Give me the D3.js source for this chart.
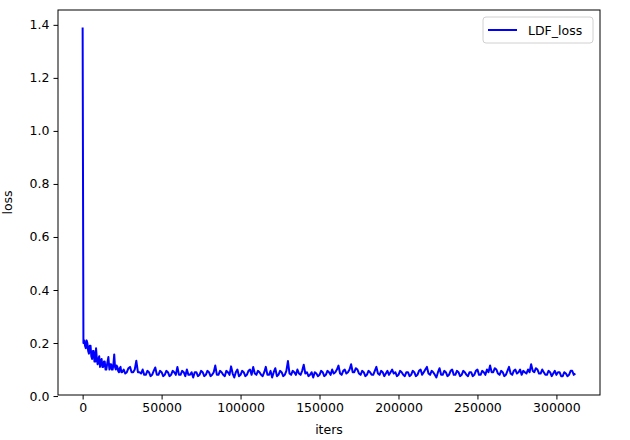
<!DOCTYPE html>
<html>
 <head>
   <title>LDF loss</title>
   <script type="text/javascript" src="https://cdn.jsdelivr.net/npm/d3@7"></script>
   <style type="text/css">
		body { margin: 0; background: #fff; }
		text {
			font-family: "DejaVu Sans", sans-serif;
			font-size: 12.5px;
			fill: #000;
		}
		path.loss {
			stroke: #0000ff;
			stroke-width: 2;
			fill: none;
			stroke-linejoin: round;
		}
   </style>
 </head>
 <body>
   <script type="text/javascript">

	// [iter, loss]
	var lossData = [
		[0,1.39],[500,0.20],[1000,0.21],[1500,0.19],[2000,0.18],[2500,0.21],[3000,0.20],[3500,0.17],[4000,0.16],
		[4500,0.19],[5000,0.19],[5500,0.15],[6000,0.14],[6500,0.17],[7000,0.17],[7500,0.13],[8000,0.13],[8500,0.18],
		[9000,0.14],[9500,0.12],[10000,0.14],[10500,0.15],[11000,0.11],[11500,0.13],[12000,0.14],[12500,0.11],
		[13000,0.11],[13500,0.13],[14000,0.13],[14500,0.10],[15000,0.10],[15500,0.12],[16300,0.147],[16800,0.11],
		[17000,0.10],[17500,0.12],[18000,0.12],[18500,0.10],[19000,0.10],[19500,0.12],[20000,0.157],[20500,0.11],
		[21000,0.10],[21500,0.115],[22000,0.11],[22500,0.095],[23000,0.09],[23500,0.105],[24000,0.11],[24500,0.09],[25000,0.09],
		[26000,0.10],[27000,0.085],[28000,0.09],[29000,0.105],[30000,0.11],[31000,0.09],[32000,0.09],[33000,0.10],
		[34000,0.133],[35000,0.09],[36000,0.09],[37000,0.085],[38000,0.10],[39000,0.08],[40000,0.08],[41000,0.095],
		[42000,0.09],[43000,0.075],[44000,0.08],[45000,0.095],[46000,0.108],[47000,0.08],[48000,0.08],[49000,0.095],
		[50000,0.09],[51000,0.075],[52000,0.08],[53000,0.095],[54000,0.09],[55000,0.075],[56000,0.08],[57000,0.095],
		[58000,0.09],[59000,0.08],[60000,0.11],[61000,0.08],[62000,0.08],[63000,0.095],[64000,0.09],[65000,0.075],
		[66000,0.10],[67000,0.08],[68000,0.08],[69000,0.09],[70000,0.07],[71000,0.09],[72000,0.09],[73000,0.075],
		[74000,0.08],[75000,0.095],[76000,0.09],[77000,0.075],[78000,0.08],[79000,0.095],[80000,0.09],[81000,0.075],
		[82000,0.08],[83000,0.09],[84000,0.115],[85000,0.08],[86000,0.08],[87000,0.095],[88000,0.09],[89000,0.08],
		[90000,0.075],[91000,0.095],[92000,0.09],[93000,0.08],[94000,0.112],[95000,0.085],[96000,0.07],[97000,0.09],
		[98000,0.10],[99000,0.075],[100000,0.08],[101000,0.095],[102000,0.09],[103000,0.075],[104000,0.08],[105000,0.095],
		[106000,0.10],[107000,0.08],[108000,0.11],[109000,0.085],[110000,0.08],[111000,0.095],[112000,0.09],[113000,0.08],
		[114000,0.075],[115000,0.09],[116000,0.11],[117000,0.08],[118000,0.08],[119000,0.095],[120000,0.07],[121000,0.09],
		[122000,0.105],[123000,0.075],[124000,0.08],[125000,0.095],[126000,0.09],[127000,0.075],[128000,0.08],[129000,0.095],
		[130000,0.132],[131000,0.085],[132000,0.08],[133000,0.095],[134000,0.09],[135000,0.08],[136000,0.10],[137000,0.085],
		[138000,0.08],[139000,0.095],[140000,0.118],[141000,0.085],[142000,0.09],[143000,0.075],[144000,0.08],[145000,0.09],
		[146000,0.07],[147000,0.09],[148000,0.085],[149000,0.075],[150000,0.08],[151000,0.095],[152000,0.09],[153000,0.075],
		[154000,0.08],[155000,0.095],[156000,0.09],[157000,0.08],[158000,0.10],[159000,0.085],[160000,0.09],[161000,0.10],
		[162000,0.115],[163000,0.085],[164000,0.08],[165000,0.095],[166000,0.10],[167000,0.085],[168000,0.09],[169000,0.10],
		[170000,0.12],[171000,0.09],[172000,0.09],[173000,0.105],[174000,0.10],[175000,0.085],[176000,0.08],[177000,0.095],
		[178000,0.09],[179000,0.075],[180000,0.08],[181000,0.095],[182000,0.09],[183000,0.08],[184000,0.08],[185000,0.095],
		[186000,0.11],[187000,0.085],[188000,0.08],[189000,0.095],[190000,0.09],[191000,0.075],[192000,0.085],[193000,0.095],
		[194000,0.08],[195000,0.09],[196000,0.10],[197000,0.085],[198000,0.09],[199000,0.075],[200000,0.08],[201000,0.095],
		[202000,0.09],[203000,0.08],[204000,0.075],[205000,0.09],[206000,0.09],[207000,0.075],[208000,0.08],[209000,0.095],
		[210000,0.09],[211000,0.075],[212000,0.08],[213000,0.095],[214000,0.10],[215000,0.08],[216000,0.09],[217000,0.10],
		[218000,0.11],[219000,0.085],[220000,0.08],[221000,0.095],[222000,0.09],[223000,0.08],[224000,0.07],[225000,0.09],
		[226000,0.105],[227000,0.08],[228000,0.08],[229000,0.095],[230000,0.09],[231000,0.075],[232000,0.08],[233000,0.095],
		[234000,0.10],[235000,0.08],[236000,0.08],[237000,0.095],[238000,0.09],[239000,0.075],[240000,0.08],[241000,0.095],
		[242000,0.09],[243000,0.08],[244000,0.075],[245000,0.09],[246000,0.09],[247000,0.075],[248000,0.08],[249000,0.095],
		[250000,0.10],[251000,0.08],[252000,0.08],[253000,0.095],[254000,0.09],[255000,0.08],[256000,0.10],[257000,0.09],
		[258000,0.115],[259000,0.09],[260000,0.09],[261000,0.105],[262000,0.10],[263000,0.085],[264000,0.08],[265000,0.095],
		[266000,0.09],[267000,0.075],[268000,0.08],[269000,0.095],[270000,0.11],[271000,0.085],[272000,0.08],[273000,0.095],
		[274000,0.10],[275000,0.085],[276000,0.09],[277000,0.10],[278000,0.08],[279000,0.095],[280000,0.09],[281000,0.085],
		[282000,0.10],[283000,0.09],[284000,0.12],[285000,0.095],[286000,0.09],[287000,0.105],[288000,0.10],[289000,0.085],
		[290000,0.085],[291000,0.10],[292000,0.09],[293000,0.08],[294000,0.08],[295000,0.095],[296000,0.09],[297000,0.075],
		[298000,0.085],[299000,0.095],[300000,0.08],[301000,0.09],[302000,0.09],[303000,0.075],[304000,0.075],[305000,0.09],
		[306000,0.085],[307000,0.075],[308000,0.08],[309000,0.095],[310000,0.095],[311000,0.08],[312000,0.085]
	];
	var xTicks = [0, 50000, 100000, 150000, 200000, 250000, 300000];
	var yTicks = [0.0, 0.2, 0.4, 0.6, 0.8, 1.0, 1.2, 1.4];
	var seriesName = 'LDF_loss';

	var W = 630, H = 440;
	var m = { left: 58, top: 10, right: 30, bottom: 45 };
	var w = W - m.left - m.right, h = H - m.top - m.bottom;

	var svg = d3.select('body').append('svg')
		.attr('width', W).attr('height', H);
	var g = svg.append('g')
		.attr('transform', 'translate(' + m.left + ',' + m.top + ')');

	// matplotlib style 5% margins
	var xMax = d3.max(lossData, function(d) { return d[0] });
	var yMin = d3.min(lossData, function(d) { return d[1] });
	var yMax = d3.max(lossData, function(d) { return d[1] });
	var xPad = xMax * 0.05, yPad = (yMax - yMin) * 0.05;

	var x = d3.scaleLinear().domain([-xPad, xMax + xPad]).range([0, w]);
	var y = d3.scaleLinear().domain([yMin - yPad, yMax + yPad]).range([h, 0]);

	var line = d3.line()
		.x(function(d) { return x(d[0]) })
		.y(function(d) { return y(d[1]) });

	g.append('path').datum(lossData)
		.attr('class', 'loss')
		.attr('d', line);

	var xAxis = g.append('g')
		.attr('transform', 'translate(0,' + h + ')')
		.call(d3.axisBottom(x).tickValues(xTicks).tickFormat(d3.format('d')).tickSize(4.5).tickPadding(4));
	var yAxis = g.append('g')
		.call(d3.axisLeft(y).tickValues(yTicks).tickFormat(d3.format('.1f')).tickSize(4.5).tickPadding(4));
	[xAxis, yAxis].forEach(function(a) {
		a.select('.domain').remove();
		a.selectAll('line').attr('stroke', '#000').attr('stroke-width', 1);
		a.selectAll('text').attr('font-size', null).attr('font-family', null).attr('fill', '#000');
	});

	// frame
	g.append('rect')
		.attr('x', 0).attr('y', 0).attr('width', w).attr('height', h)
		.attr('fill', 'none').attr('stroke', '#000').attr('stroke-width', 1);

	g.append('text')
		.attr('x', w / 2).attr('y', h + 39)
		.attr('text-anchor', 'middle')
		.text('iters');
	g.append('text')
		.attr('transform', 'translate(' + (-46) + ',' + (h / 2) + ') rotate(-90)')
		.attr('text-anchor', 'middle')
		.text('loss');

	// legend
	var lg = g.append('g').attr('transform', 'translate(' + (w - 117) + ',7)');
	lg.append('rect')
		.attr('width', 110).attr('height', 26).attr('rx', 3)
		.attr('fill', '#fff').attr('stroke', '#d0d0d0');
	lg.append('line')
		.attr('x1', 5).attr('x2', 34).attr('y1', 13).attr('y2', 13)
		.attr('stroke', '#0000ff').attr('stroke-width', 2);
	lg.append('text')
		.attr('x', 45).attr('y', 17.5)
		.text(seriesName);

    </script>
 </body>
</html>
